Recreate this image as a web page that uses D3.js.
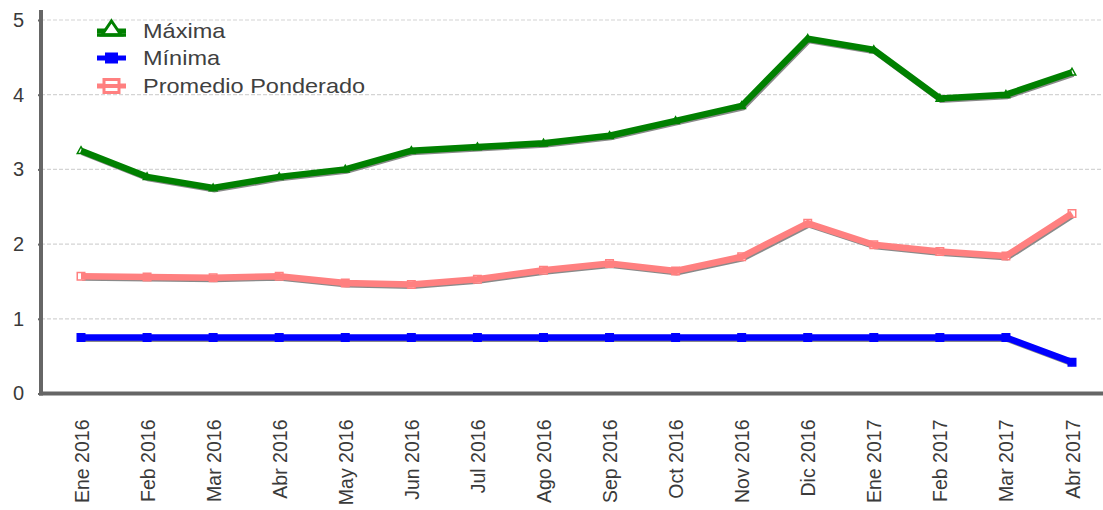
<!DOCTYPE html>
<html>
<head>
<meta charset="utf-8">
<script src="https://cdn.jsdelivr.net/npm/d3@7"></script>
<style>
  html, body { margin: 0; padding: 0; background: #fff; }
  svg { display: block; font-family: Arial, "Liberation Sans", sans-serif; }
</style>
</head>
<body>
<svg id="chart" width="1103" height="510"></svg>
<script>
// Monthly categories
const months = ["Ene 2016", "Feb 2016", "Mar 2016", "Abr 2016", "May 2016", "Jun 2016",
  "Jul 2016", "Ago 2016", "Sep 2016", "Oct 2016", "Nov 2016", "Dic 2016",
  "Ene 2017", "Feb 2017", "Mar 2017", "Abr 2017"];

// Series values
const maxima = [3.25, 2.9, 2.75, 2.9, 3.0, 3.25, 3.3, 3.35, 3.45, 3.65, 3.85, 4.75, 4.6, 3.95, 4.0, 4.3];
const minima = [0.75, 0.75, 0.75, 0.75, 0.75, 0.75, 0.75, 0.75, 0.75, 0.75, 0.75, 0.75, 0.75, 0.75, 0.75, 0.42];
const promedio = [1.57, 1.56, 1.55, 1.57, 1.48, 1.46, 1.53, 1.65, 1.74, 1.64, 1.83, 2.28, 1.99, 1.9, 1.84, 2.41];

// Y-axis ticks
const yTicks = [0, 1, 2, 3, 4, 5];

const seriesNames = ["Máxima", "Mínima", "Promedio Ponderado"];
const seriesColors = ["#008000", "#0000ff", "#ff8080"];
const seriesShapes = ["triangle", "square", "hollowSquare"];
const seriesValues = [maxima, minima, promedio];

const svg = d3.select("#chart");
const plotLeft = 41, plotRight = 1103, plotTop = 20, plotBottom = 393.5;

const x = d3.scalePoint().domain(months).range([81, 1072]);
const y = d3.scaleLinear().domain([0, 5]).range([plotBottom, plotTop]);

// Gridlines
svg.append("g")
  .selectAll("line")
  .data(yTicks.filter(t => t > 0))
  .join("line")
  .attr("x1", plotLeft).attr("x2", plotRight)
  .attr("y1", d => y(d)).attr("y2", d => y(d))
  .attr("stroke", "#d4d4d4")
  .attr("stroke-width", 1.2)
  .attr("stroke-dasharray", "4,2");

// Y axis
const yAxis = svg.append("g")
  .attr("transform", `translate(${plotLeft},0)`)
  .call(d3.axisLeft(y).tickValues(yTicks).tickSize(3).tickPadding(14).tickFormat(d3.format("d")));
yAxis.select(".domain").remove();
yAxis.selectAll(".tick line").attr("stroke", "#666").attr("stroke-width", 2);
yAxis.selectAll(".tick text")
  .attr("fill", "#3a3a3a")
  .style("font-size", "20px")
  .style("font-family", "Arial, 'Liberation Sans', sans-serif");

// X axis labels
const xAxis = svg.append("g")
  .attr("transform", `translate(0,${plotBottom})`)
  .call(d3.axisBottom(x).tickSize(0).tickPadding(0));
xAxis.select(".domain").remove();
xAxis.selectAll(".tick text")
  .attr("fill", "#3a3a3a")
  .style("font-size", "19.5px")
  .style("font-family", "Arial, 'Liberation Sans', sans-serif")
  .attr("text-anchor", "end")
  .attr("transform", "rotate(-90)")
  .attr("x", -26)
  .attr("y", 0)
  .attr("dy", "0.36em");

// Axis lines
svg.append("line")
  .attr("x1", plotLeft).attr("x2", plotLeft)
  .attr("y1", 10).attr("y2", plotBottom + 2)
  .attr("stroke", "#666").attr("stroke-width", 4);
svg.append("line")
  .attr("x1", plotLeft - 2).attr("x2", plotRight)
  .attr("y1", plotBottom).attr("y2", plotBottom)
  .attr("stroke", "#666").attr("stroke-width", 4);

const line = d3.line()
  .x((d, i) => x(months[i]))
  .y(d => y(d));

function markerPath(shape, size) {
  if (shape === "triangle") {
    const h = size * 0.9;
    return `M0,${-h * 0.6}L${size / 2},${h * 0.4}L${-size / 2},${h * 0.4}Z`;
  }
  const s = size / 2;
  return `M${-s},${-s}L${s},${-s}L${s},${s}L${-s},${s}Z`;
}

// Series: shadow, markers, line
seriesValues.forEach((vals, k) => {
  const g = svg.append("g");
  g.append("path")
    .datum(vals)
    .attr("d", line)
    .attr("fill", "none")
    .attr("stroke", "#8a8a8a")
    .attr("stroke-width", 6)
    .attr("stroke-linejoin", "miter")
    .attr("transform", "translate(1.2,1.5)");
  g.selectAll("path.marker")
    .data(vals)
    .join("path")
    .attr("class", "marker")
    .attr("d", markerPath(seriesShapes[k], 7.5))
    .attr("transform", (d, i) => `translate(${x(months[i])},${y(d)})`)
    .attr("fill", seriesShapes[k] === "square" ? seriesColors[k] : "#fff")
    .attr("stroke", seriesColors[k])
    .attr("stroke-width", 1.5);
  g.append("path")
    .datum(vals)
    .attr("d", line)
    .attr("fill", "none")
    .attr("stroke", seriesColors[k])
    .attr("stroke-width", 6.5)
    .attr("stroke-linejoin", "miter");
});

// Legend
const legend = svg.append("g");
const legendRows = [31, 58, 86];
seriesNames.forEach((name, k) => {
  const row = legend.append("g").attr("transform", `translate(0,${legendRows[k]})`);
  row.append("line")
    .attr("x1", 97).attr("x2", 126)
    .attr("y1", 0).attr("y2", 0)
    .attr("stroke", seriesColors[k])
    .attr("stroke-width", 5);
  if (seriesShapes[k] === "triangle") {
    row.append("path")
      .attr("d", "M111.5,-10L121,4L102,4Z")
      .attr("fill", "#fff")
      .attr("stroke", seriesColors[k])
      .attr("stroke-width", 3);
    row.append("line")
      .attr("x1", 97).attr("x2", 126)
      .attr("y1", 4).attr("y2", 4)
      .attr("stroke", seriesColors[k])
      .attr("stroke-width", 3.5);
  } else if (seriesShapes[k] === "square") {
    row.append("rect")
      .attr("x", 105).attr("y", -5.5)
      .attr("width", 13).attr("height", 11)
      .attr("fill", seriesColors[k]);
  } else {
    row.append("rect")
      .attr("x", 104).attr("y", -6.5)
      .attr("width", 15).attr("height", 13)
      .attr("fill", "#fff")
      .attr("stroke", seriesColors[k])
      .attr("stroke-width", 3);
    row.append("line")
      .attr("x1", 97).attr("x2", 126)
      .attr("y1", 0).attr("y2", 0)
      .attr("stroke", seriesColors[k])
      .attr("stroke-width", 4);
  }
  row.append("text")
    .attr("transform", "translate(143,6.5) scale(1.12,1)")
    .attr("fill", "#404040")
    .style("font-size", "21px")
    .text(name);
});
</script>
</body>
</html>
